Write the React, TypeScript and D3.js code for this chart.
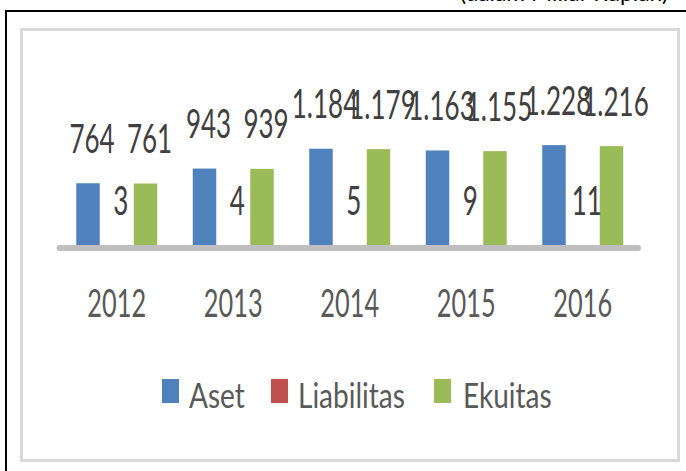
import React from "react";
import * as d3 from "d3";

const categories = ["2012", "2013", "2014", "2015", "2016"];
const seriesNames = ["Aset", "Liabilitas", "Ekuitas"];
const asetValues = [764, 943, 1184, 1163, 1228];
const liabilitasValues = [3, 4, 5, 9, 11];
const ekuitasValues = [761, 939, 1179, 1155, 1216];
const valueLabels = [
  ["764", "943", "1.184", "1.163", "1.228"],
  ["3", "4", "5", "9", "11"],
  ["761", "939", "1.179", "1.155", "1.216"],
];
const colors = ["#4F81BD", "#C0504D", "#9BBB59"];
const unitNote = "(dalam Miliar Rupiah)";

const W = 686;
const H = 471;
const FONT = "Lato, 'Open Sans', sans-serif";

export default function App() {
  const seriesValues = [asetValues, liabilitasValues, ekuitasValues];
  const x0 = d3.scaleBand<string>().domain(categories).range([58.5, 641]).padding(0);
  const x1 = d3
    .scaleBand<string>()
    .domain(seriesNames)
    .range([0, x0.bandwidth()])
    .paddingInner(0.183)
    .paddingOuter(0.618);
  const y = d3.scaleLinear().domain([0, 1400]).range([246, 131]);

  const labelSx = 0.65;
  const legendSx = 0.8;

  const legendItems = [
    { name: "Aset", sw: 162, tx: 189 },
    { name: "Liabilitas", sw: 271, tx: 298 },
    { name: "Ekuitas", sw: 434, tx: 463 },
  ];

  return (
    <svg
      width={W}
      height={H}
      style={{ position: "absolute", left: 0, top: 0, background: "#fff" }}
      fontFamily={FONT}
    >
      <rect x={0} y={0} width={W} height={H} fill="#fff" />
      {/* cut off unit note */}
      <text
        x={460}
        y={0.5}
        fontSize={22}
        textLength={208}
        lengthAdjust="spacingAndGlyphs"
        fill="#000"
      >
        {unitNote}
      </text>
      {/* outer black frame */}
      <rect x={6} y={11} width={720} height={520} fill="none" stroke="#000" strokeWidth={2} />
      {/* chart area border */}
      <rect x={21.5} y={29.5} width={657} height={431} fill="#fff" stroke="#D9D9D9" strokeWidth={3} />

      {/* bars */}
      {seriesNames.map((s, si) => (
        <g key={s}>
          {categories.map((c, ci) => {
            const v = seriesValues[si][ci];
            const bx = (x0(c) ?? 0) + (x1(s) ?? 0);
            return (
              <rect
                key={c}
                x={bx}
                y={y(v)}
                width={x1.bandwidth()}
                height={y(0) - y(v)}
                fill={colors[si]}
              />
            );
          })}
        </g>
      ))}

      {/* axis line */}
      <line
        x1={x0.range()[0] + 1}
        x2={x0.range()[1] - 3}
        y1={y(0) + 2}
        y2={y(0) + 2}
        stroke="#BFBFBF"
        strokeWidth={6}
        strokeLinecap="round"
      />

      {/* data labels */}
      {seriesNames.map((s, si) => (
        <g key={s + "-lbl"}>
          {categories.map((c, ci) => {
            const v = seriesValues[si][ci];
            const cx = (x0(c) ?? 0) + (x1(s) ?? 0) + x1.bandwidth() / 2 + 4;
            return (
              <text
                key={c}
                transform={`translate(${cx},${y(v) - 30.5}) scale(${labelSx},1)`}
                textAnchor="middle"
                fontSize={40}
                fill="#404040"
              >
                {valueLabels[si][ci]}
              </text>
            );
          })}
        </g>
      ))}

      {/* category labels */}
      {categories.map((c) => (
        <text
          key={c}
          transform={`translate(${(x0(c) ?? 0) + x0.bandwidth() / 2},317) scale(${labelSx},1)`}
          textAnchor="middle"
          fontSize={39}
          fill="#595959"
        >
          {c}
        </text>
      ))}

      {/* legend */}
      {legendItems.map((it, i) => (
        <g key={it.name}>
          <rect x={it.sw} y={379} width={17} height={24} fill={colors[i]} />
          <text
            transform={`translate(${it.tx},408) scale(${legendSx},1)`}
            fontSize={35}
            fill="#595959"
          >
            {seriesNames[i]}
          </text>
        </g>
      ))}
    </svg>
  );
}
